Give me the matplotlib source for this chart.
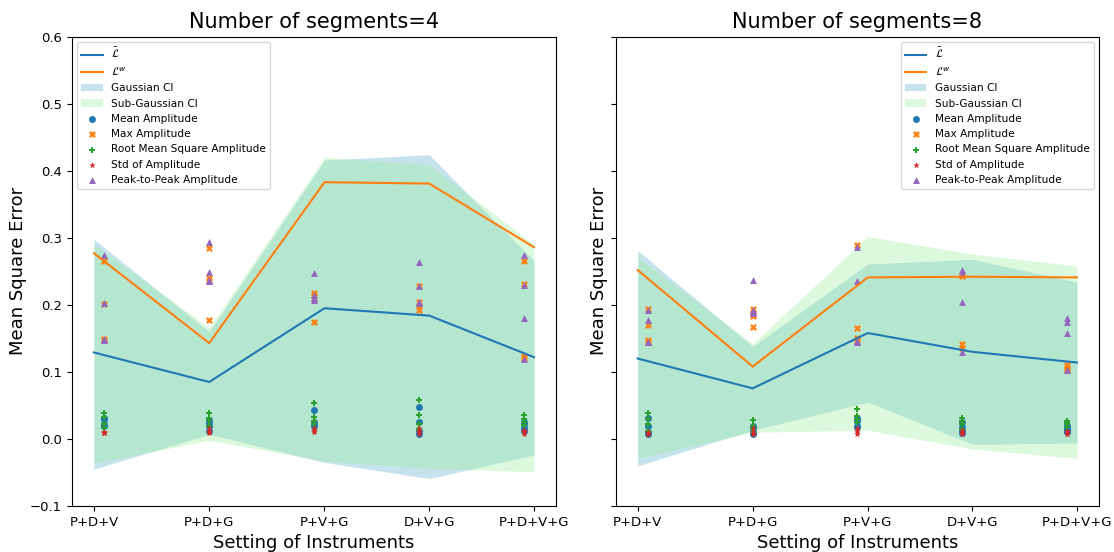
import numpy as np
import matplotlib
matplotlib.use("Agg")
import matplotlib.pyplot as plt

categories = ["P+D+V", "P+D+G", "P+V+G", "D+V+G", "P+D+V+G"]
line_x = [-0.1, 1.0, 2.1, 3.1, 4.1]
point_x = [0, 1, 2, 3, 4]

# ---- Number of segments = 4 ----
s4_lbar = [0.129, 0.085, 0.195, 0.184, 0.122]
s4_lw = [0.277, 0.143, 0.383, 0.381, 0.286]
s4_gauss_lo = [-0.045, 0.007, -0.035, -0.059, -0.024]
s4_gauss_hi = [0.298, 0.160, 0.416, 0.424, 0.266]
s4_sub_lo = [-0.036, -0.002, -0.033, -0.044, -0.049]
s4_sub_hi = [0.290, 0.166, 0.420, 0.409, 0.290]
s4_mean = [[0.031, 0.030, 0.022, 0.020], [0.028, 0.024, 0.020, 0.012],
           [0.043, 0.026, 0.023, 0.020], [0.047, 0.025, 0.012, 0.008],
           [0.026, 0.022, 0.016, 0.012]]
s4_max = [[0.265, 0.202, 0.149, 0.148], [0.285, 0.240, 0.236, 0.178],
          [0.217, 0.213, 0.209, 0.175], [0.228, 0.205, 0.198, 0.192],
          [0.266, 0.231, 0.124, 0.121]]
s4_rms = [[0.038, 0.033, 0.023, 0.017], [0.038, 0.031, 0.027, 0.020],
          [0.053, 0.033, 0.027, 0.022], [0.058, 0.036, 0.022, 0.015],
          [0.036, 0.030, 0.025, 0.021]]
s4_std = [[0.011, 0.010, 0.009, 0.009], [0.016, 0.012, 0.010, 0.009],
          [0.017, 0.014, 0.012, 0.011], [0.016, 0.012, 0.010, 0.008],
          [0.014, 0.012, 0.010, 0.008]]
s4_p2p = [[0.275, 0.203, 0.149, 0.148], [0.294, 0.249, 0.237, 0.236],
          [0.248, 0.214, 0.211, 0.208], [0.264, 0.228, 0.205, 0.203],
          [0.275, 0.230, 0.180, 0.120]]

# ---- Number of segments = 8 ----
s8_lbar = [0.120, 0.0755, 0.158, 0.130, 0.114]
s8_lw = [0.252, 0.108, 0.241, 0.242, 0.241]
s8_gauss_lo = [-0.040, 0.013, 0.055, -0.008, -0.006]
s8_gauss_hi = [0.281, 0.138, 0.261, 0.268, 0.234]
s8_sub_lo = [-0.029, 0.010, 0.013, -0.015, -0.029]
s8_sub_hi = [0.271, 0.142, 0.302, 0.276, 0.258]
s8_mean = [[0.031, 0.020, 0.010, 0.008], [0.020, 0.017, 0.010, 0.007],
           [0.031, 0.027, 0.020, 0.018], [0.026, 0.018, 0.012, 0.009],
           [0.020, 0.016, 0.013, 0.010]]
s8_max = [[0.194, 0.170, 0.147, 0.145], [0.194, 0.186, 0.183, 0.167],
          [0.289, 0.165, 0.150, 0.148], [0.245, 0.243, 0.142, 0.135],
          [0.110, 0.106, 0.104, 0.103]]
s8_rms = [[0.038, 0.030, 0.022, 0.012], [0.028, 0.020, 0.015, 0.010],
          [0.045, 0.035, 0.030, 0.025], [0.032, 0.027, 0.022, 0.015],
          [0.027, 0.024, 0.022, 0.018]]
s8_std = [[0.010, 0.008, 0.007, 0.007], [0.016, 0.011, 0.008, 0.007],
          [0.016, 0.013, 0.010, 0.008], [0.014, 0.011, 0.009, 0.007],
          [0.012, 0.010, 0.008, 0.007]]
s8_p2p = [[0.193, 0.177, 0.145, 0.144], [0.237, 0.192, 0.189, 0.188],
          [0.287, 0.235, 0.146, 0.145], [0.252, 0.248, 0.205, 0.130],
          [0.181, 0.174, 0.158, 0.103]]

panels = [
    dict(title="Number of segments=4", lbar=s4_lbar, lw=s4_lw,
         glo=s4_gauss_lo, ghi=s4_gauss_hi, slo=s4_sub_lo, shi=s4_sub_hi,
         mean=s4_mean, mx=s4_max, rms=s4_rms, std=s4_std, p2p=s4_p2p,
         loc="upper left"),
    dict(title="Number of segments=8", lbar=s8_lbar, lw=s8_lw,
         glo=s8_gauss_lo, ghi=s8_gauss_hi, slo=s8_sub_lo, shi=s8_sub_hi,
         mean=s8_mean, mx=s8_max, rms=s8_rms, std=s8_std, p2p=s8_p2p,
         loc="upper right"),
]

fig = plt.figure(figsize=(11.14, 5.52), dpi=100)
ax1 = fig.add_axes([0.0646, 0.0833, 0.4345, 0.8502])
ax2 = fig.add_axes([0.5527, 0.0833, 0.4338, 0.8502], sharey=ax1)

for ax, p in zip([ax1, ax2], panels):
    ax.plot(line_x, p["lbar"], color="C0", lw=1.5, label=r"$\bar{\mathcal{L}}$")
    ax.plot(line_x, p["lw"], color="C1", lw=1.5, label=r"$\mathcal{L}^w$")
    ax.fill_between(line_x, p["glo"], p["ghi"], color="lightblue", alpha=0.7,
                    lw=0, label="Gaussian CI")
    ax.fill_between(line_x, p["slo"], p["shi"], color="lightgreen", alpha=0.3,
                    lw=0, label="Sub-Gaussian CI")
    series = [("mean", "o", "C0", "Mean Amplitude"),
              ("mx", "X", "C1", "Max Amplitude"),
              ("rms", "P", "C2", "Root Mean Square Amplitude"),
              ("std", "*", "C3", "Std of Amplitude"),
              ("p2p", "^", "C4", "Peak-to-Peak Amplitude")]
    for key, m, c, lab in series:
        vals = np.asarray(p[key])
        xs = np.repeat(point_x, vals.shape[1])
        ax.scatter(xs, vals.ravel(), marker=m, color=c, s=25, label=lab,
                   linewidths=0)
    ax.set_title(p["title"], fontsize=15)
    ax.set_xlabel("Setting of Instruments", fontsize=13)
    ax.set_ylabel("Mean Square Error", fontsize=13, labelpad=2)
    ax.set_xticks(line_x)
    ax.set_xticklabels(categories, fontsize=9.5)
    ax.tick_params(axis="y", labelsize=9.5)
    ax.legend(loc=p["loc"], fontsize=7.6)

ax1.set_ylim(-0.1, 0.6)
ax1.set_yticks(np.arange(-0.1, 0.61, 0.1))
ax2.tick_params(axis="y", labelleft=False)

fig.savefig("out.png", dpi=100)
